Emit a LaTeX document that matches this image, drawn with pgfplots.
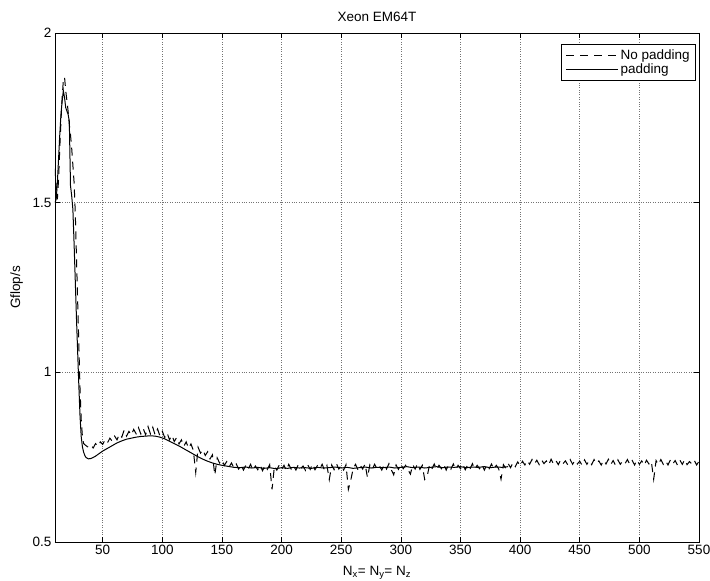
\documentclass[border=0pt]{standalone}
\usepackage{fontspec}
\setmainfont{Liberation Sans}
\usepackage{pgfplots}
\pgfplotsset{compat=1.18}
\begin{document}
\begin{tikzpicture}
\useasboundingbox (-55bp,-39bp) rectangle (655bp,542bp);
\begin{axis}[
  at={(0,0)}, anchor=south west,
  scale only axis, width=644bp, height=509bp,
  font=\fontsize{13.5bp}{16bp}\selectfont,
  /pgf/number format/assume math mode=true,
  xmin=10, xmax=550, ymin=0.5, ymax=2,
  xtick={50,100,...,550}, ytick={0.5,1,1.5,2},
  yticklabels={0.5,1,1.5,2},
  tick align=inside, major tick length=5bp,
  tick style={black, line width=0.6bp},
  axis line style={black, line width=0.8bp},
  grid=major, major grid style={black!55, dotted, line width=0.6bp},
  title={Xeon EM64T},
  title style={yshift=2bp},
  ylabel={Gflop/s},
  xlabel={N\textsubscript{x}= N\textsubscript{y}= N\textsubscript{z}},
  xlabel style={yshift=-4bp},
  ylabel style={yshift=3bp},
  legend style={at={(0.9953,0.978)}, anchor=north east, draw=black, line width=0.8bp,
    font=\fontsize{13.5bp}{16bp}\selectfont, inner xsep=4bp, inner ysep=3bp, row sep=-1bp},
  legend cell align=left,
  legend image code/.code={\draw[#1] (0bp,0bp) -- (52bp,0bp);},
]
\addplot[black, line width=1bp, dash pattern=on 8bp off 6bp] coordinates {
(10,1.60)(11,1.55)(12,1.51)(13,1.57)(14,1.66)(15,1.74)(16,1.81)(17,1.86)(18,1.87)(19,1.83)
(20,1.80)(21,1.77)(22,1.73)(23,1.70)(24,1.66)(25,1.61)(26,1.56)(27,1.47)(28,1.34)(29,1.21)
(30,1.08)(31,0.95)(32,0.86)(33,0.81)(34,0.79)
(36,0.784)(38,0.779)(40,0.786)(42,0.777)(44,0.790)(46,0.782)(48,0.795)(50,0.788)
(52,0.801)(54,0.792)(56,0.806)(58,0.797)(60,0.812)(62,0.801)(64,0.818)(66,0.809)(68,0.830)(70,0.812)
(72,0.826)(74,0.815)(76,0.832)(78,0.819)(80,0.837)(82,0.818)(84,0.834)(86,0.816)(88,0.840)(90,0.819)
(92,0.838)(94,0.815)(96,0.833)(98,0.812)(100,0.826)(102,0.808)(104,0.822)(106,0.801)(108,0.815)(110,0.796)
(112,0.808)(114,0.789)(116,0.801)(118,0.782)(120,0.795)(122,0.776)(124,0.789)(126,0.770)(128,0.705)(130,0.779)
(132,0.762)(134,0.772)(136,0.755)(138,0.766)(140,0.745)(142,0.757)(144,0.697)(146,0.748)(148,0.733)(150,0.742)
(152,0.726)(154,0.737)(156,0.721)(158,0.733)(160,0.718)(162,0.730)(164,0.715)(166,0.728)(168,0.712)(170,0.726)
(172,0.714)(174,0.729)(176,0.711)(178,0.724)(180,0.713)(182,0.727)(184,0.710)(186,0.725)(188,0.714)(190,0.728)
(192,0.655)(194,0.724)(196,0.712)(198,0.727)(200,0.714)(202,0.726)(204,0.711)(206,0.729)(208,0.715)(210,0.725)
(212,0.712)(214,0.728)(216,0.716)(218,0.724)(220,0.711)(222,0.727)(224,0.714)(226,0.730)(228,0.713)(230,0.725)
(232,0.716)(234,0.729)(236,0.712)(238,0.726)(240,0.684)(242,0.727)(244,0.713)(246,0.731)(248,0.715)(250,0.726)
(252,0.712)(254,0.728)(256,0.655)(258,0.682)(260,0.716)(262,0.729)(264,0.713)(266,0.726)(268,0.715)(270,0.730)
(272,0.690)(274,0.727)(276,0.714)(278,0.729)(280,0.716)(282,0.725)(284,0.712)(286,0.728)(288,0.715)(290,0.731)
(292,0.713)(294,0.698)(296,0.727)(298,0.714)(300,0.729)(302,0.716)(304,0.726)(306,0.713)(308,0.700)(310,0.728)
(312,0.715)(314,0.731)(316,0.714)(318,0.726)(320,0.684)(322,0.692)(324,0.727)(326,0.715)(328,0.730)(330,0.713)
(332,0.726)(334,0.716)(336,0.729)(338,0.712)(340,0.727)(342,0.715)(344,0.730)(346,0.714)(348,0.726)(350,0.716)
(352,0.729)(354,0.713)(356,0.727)(358,0.715)(360,0.731)(362,0.714)(364,0.726)(366,0.716)(368,0.729)(370,0.712)
(372,0.727)(374,0.716)(376,0.730)(378,0.714)(380,0.726)(382,0.716)(384,0.685)(386,0.728)(388,0.717)(390,0.731)
(392,0.719)(394,0.734)(396,0.722)(398,0.736)(400,0.724)(402,0.738)(404,0.727)(406,0.740)(408,0.729)(410,0.743)
(412,0.730)(414,0.741)(416,0.728)(418,0.742)(420,0.731)(422,0.739)(424,0.727)(426,0.744)(428,0.730)(430,0.740)
(432,0.728)(434,0.742)(436,0.731)(438,0.739)(440,0.727)(442,0.743)(444,0.729)(446,0.741)(448,0.730)(450,0.738)
(452,0.726)(454,0.742)(456,0.729)(458,0.740)(460,0.728)(462,0.743)(464,0.731)(466,0.739)(468,0.727)(470,0.741)
(472,0.730)(474,0.744)(476,0.728)(478,0.740)(480,0.726)(482,0.742)(484,0.729)(486,0.739)(488,0.731)(490,0.743)
(492,0.728)(494,0.740)(496,0.727)(498,0.742)(500,0.729)(502,0.739)(504,0.726)(506,0.741)(508,0.730)(510,0.738)
(512,0.685)(514,0.740)(516,0.728)(518,0.743)(520,0.729)(522,0.739)(524,0.727)(526,0.742)(528,0.730)(530,0.740)
(532,0.726)(534,0.741)(536,0.729)(538,0.743)(540,0.728)(542,0.737)(544,0.730)(546,0.741)(548,0.727)(550,0.738)
};
\addlegendentry{No padding}
\addplot[black, line width=1bp] coordinates {
(10,1.50)(11,1.51)(12,1.56)(13,1.63)(14,1.70)(15,1.76)(16,1.80)(17,1.83)(18,1.81)(19,1.78)
(20,1.77)(21,1.76)(22,1.74)(23,1.55)(24,1.52)(25,1.48)(26,1.38)(27,1.27)(28,1.16)(29,1.06)
(30,0.96)(31,0.87)(32,0.81)(33,0.78)(34,0.765)(35,0.755)(36,0.749)(38,0.745)(40,0.746)(42,0.749)
(44,0.753)(46,0.758)(48,0.763)(50,0.768)(54,0.776)(58,0.784)(62,0.792)(66,0.798)(70,0.803)(74,0.806)
(78,0.809)(82,0.811)(86,0.812)(90,0.813)(94,0.812)(98,0.809)(102,0.804)(106,0.797)(110,0.790)(114,0.783)
(118,0.775)(122,0.767)(126,0.759)(130,0.751)(134,0.744)(138,0.738)(142,0.733)(146,0.729)(150,0.726)(155,0.723)
(160,0.720)(165,0.719)(170,0.721)(175,0.718)(180,0.720)(185,0.717)(190,0.719)(195,0.716)(200,0.719)(205,0.717)
(210,0.720)(215,0.718)(220,0.719)(225,0.717)(230,0.720)(235,0.718)(240,0.719)(245,0.721)(250,0.718)(255,0.720)
(260,0.717)(265,0.719)(270,0.721)(275,0.718)(280,0.720)(285,0.719)(290,0.721)(295,0.718)(300,0.720)(305,0.722)
(310,0.719)(315,0.721)(320,0.718)(325,0.720)(330,0.722)(335,0.719)(340,0.721)(345,0.720)(350,0.722)(355,0.719)
(360,0.721)(365,0.720)(370,0.722)(375,0.719)(380,0.721)(385,0.720)(390,0.722)
};
\addlegendentry{padding}
\end{axis}
\end{tikzpicture}
\end{document}
